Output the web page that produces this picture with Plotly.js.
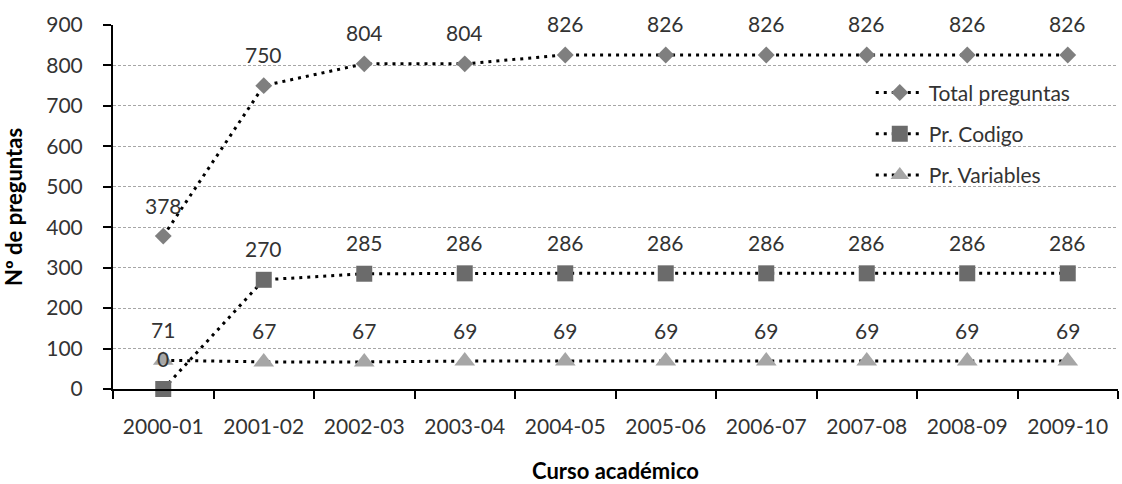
<!DOCTYPE html>
<html>
<head>
<meta charset="utf-8">
<script src="https://cdn.plot.ly/plotly-3.0.1.min.js"></script>
<style>html,body{margin:0;padding:0;background:#fff;}#chart{width:1122px;height:484px;}</style>
</head>
<body>
<div id="chart"></div>
<script>
const categories = ["2000-01","2001-02","2002-03","2003-04","2004-05","2005-06","2006-07","2007-08","2008-09","2009-10"];
const totalPreguntas = [378,750,804,804,826,826,826,826,826,826];
const prCodigo = [0,270,285,286,286,286,286,286,286,286];
const prVariables = [71,67,67,69,69,69,69,69,69,69];
const seriesNames = ["Total preguntas","Pr. Codigo","Pr. Variables"];
const yTicks = [0,100,200,300,400,500,600,700,800,900];

const FONT = "Lato, 'Open Sans', sans-serif";
const TXT = "#333333";

const series = [
  {name: seriesNames[0], y: totalPreguntas, symbol: "diamond", color: "#7f7f7f", size: 13},
  {name: seriesNames[1], y: prCodigo, symbol: "square", color: "#6b6b6b", size: 16},
  {name: seriesNames[2], y: prVariables, symbol: "triangle-up", color: "#a6a6a6", size: 18}
];

const traces = series.map((s, i) => ({
  type: "scatter",
  mode: "lines+markers",
  x: categories,
  y: s.y,
  name: s.name,
  legendgroup: "g" + i,
  line: {color: "#000000", width: 3, dash: "3px,5px"},
  marker: {symbol: s.symbol, color: s.color, size: s.size, line: {width: 0}},
  cliponaxis: false,
  hoverinfo: "skip"
}));

const annotations = [];
series.forEach(s => {
  s.y.forEach((v, j) => {
    annotations.push({
      x: categories[j], y: v, xref: "x", yref: "y",
      text: String(v), showarrow: false,
      yshift: 31,
      font: {family: FONT, size: 21, color: TXT}
    });
  });
});

const layout = {
  width: 1122, height: 484,
  margin: {l: 113, r: 4, t: 25, b: 95},
  paper_bgcolor: "#ffffff",
  plot_bgcolor: "#ffffff",
  showlegend: true,
  legend: {
    x: 0.754, y: 0.87, xanchor: "left", yanchor: "top",
    bgcolor: "rgba(0,0,0,0)",
    font: {family: FONT, size: 21, color: TXT},
    traceorder: "grouped",
    tracegroupgap: 11,
    itemwidth: 48
  },
  xaxis: {
    type: "category",
    range: [-0.5, 9.5],
    showline: true, linecolor: "#000000", linewidth: 2,
    ticks: "outside", ticklen: 8, tickwidth: 2, tickcolor: "#000000",
    tickson: "boundaries",
    showgrid: false, zeroline: false,
    tickfont: {family: FONT, size: 21, color: TXT},
    ticklabelstandoff: 18,
    title: {text: "Curso académico", font: {family: FONT, size: 22, color: "#000000", weight: "bold"}, standoff: 26}
  },
  yaxis: {
    range: [0, 900],
    tickvals: yTicks,
    showline: true, linecolor: "#000000", linewidth: 2,
    ticks: "outside", ticklen: 8, tickwidth: 2, tickcolor: "#000000",
    showgrid: true, gridcolor: "#a6a6a6", gridwidth: 1, griddash: "3px,2px",
    zeroline: false,
    tickfont: {family: FONT, size: 21, color: TXT},
    ticklabelstandoff: 16,
    title: {text: "Nº de preguntas", font: {family: FONT, size: 22, color: "#000000", weight: "bold"}, standoff: 18}
  },
  annotations: annotations
};

Plotly.newPlot("chart", traces, layout, {displayModeBar: false, staticPlot: true});
</script>
</body>
</html>
